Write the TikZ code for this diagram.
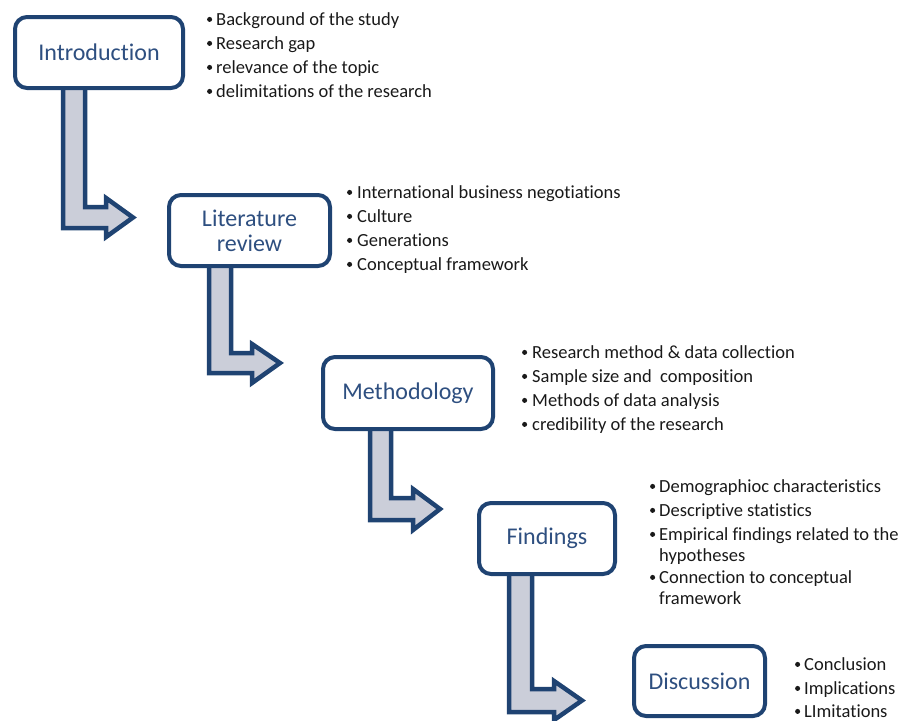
\documentclass[tikz,border=0pt]{standalone}
\usepackage{fontspec}
\setmainfont[Ligatures=NoCommon]{Carlito}
\definecolor{boxblue}{HTML}{1F4372}
\definecolor{boxtext}{HTML}{2E4F80}
\definecolor{arrowfill}{HTML}{CBCED9}
\newcommand\bitem[5]{%
  \node[bulmark] (#1b) at (#2+2.6,#4-5.6) {};
  \node[bultxt] (#1) at (#3,#4) {#5};}
\newcommand\bcont[4]{\node[bultxt] (#1) at (#2,#3) {#4};}
\begin{document}
\begin{tikzpicture}[x=1pt,y=-1pt,
  stagebox/.style={draw=boxblue, line width=4pt, rounded corners=12pt, fill=white,
    inner sep=0pt, text=boxtext, font=\fontsize{24}{26}\selectfont, align=center},
  bentarrow/.style={draw=boxblue, line width=4.5pt, fill=arrowfill, line join=miter},
  bultxt/.style={anchor=base west, inner sep=0pt, font=\fontsize{18.5}{21}\selectfont, text=black!90},
  bulmark/.style={circle, fill=black!90, inner sep=0pt, minimum size=5pt}]
\useasboundingbox (0,0) rectangle (904,720);

% bent arrows (drawn first, boxes cover their tops)
\draw[bentarrow] (63,80) -- (63,228) -- (106,228) -- (106,237) -- (133,217.5) -- (106,198) -- (106,207) -- (85,207) -- (85,80) -- cycle;
\draw[bentarrow] (209,258) -- (209,373) -- (252,373) -- (252,383) -- (280,363) -- (252,344) -- (252,353) -- (231,353) -- (231,258) -- cycle;
\draw[bentarrow] (370,421) -- (370,520) -- (413,520) -- (413,530) -- (440,509) -- (413,489) -- (413,498) -- (391,498) -- (391,421) -- cycle;
\draw[bentarrow] (509,566) -- (509,712) -- (554,712) -- (554,720) -- (582,700.5) -- (554,681) -- (554,689) -- (532,689) -- (532,566) -- cycle;

% stage boxes
\node[stagebox, minimum width=168pt, minimum height=71pt] (intro) at (99,52.5) {Introduction};
\node[stagebox, minimum width=161pt, minimum height=71pt] (lit) at (249.5,230.5) {Literature\\[-1pt]review};
\node[stagebox, minimum width=170pt, minimum height=72pt] (meth) at (408,393) {Methodology};
\node[stagebox, minimum width=136pt, minimum height=71pt] (find) at (547,538.5) {Findings};
\node[stagebox, minimum width=131pt, minimum height=70pt] (disc) at (699.5,681) {Discussion};

% bullet lists
\bitem{i1}{207}{216}{25}{Background of the study}
\bitem{i2}{207}{216}{49}{Research gap}
\bitem{i3}{207}{216}{73}{relevance of the topic}
\bitem{i4}{207}{216}{97}{delimitations of the research}

\bitem{l1}{347}{357}{198}{International business negotiations}
\bitem{l2}{347}{357}{222}{Culture}
\bitem{l3}{347}{357}{246}{Generations}
\bitem{l4}{347}{357}{270}{Conceptual framework}

\bitem{m1}{522}{532}{358}{Research method \& data collection}
\bitem{m2}{522}{532}{382}{Sample size and\ \ composition}
\bitem{m3}{522}{532}{406}{Methods of data analysis}
\bitem{m4}{522}{532}{430}{credibility of the research}

\bitem{f1}{650}{659}{492}{Demographioc characteristics}
\bitem{f2}{650}{659}{516}{Descriptive statistics}
\bitem{f3}{650}{659}{540}{Empirical findings related to the}
\bcont{f3c}{659}{561}{hypotheses}
\bitem{f4}{650}{659}{583}{Connection to conceptual}
\bcont{f4c}{659}{604}{framework}

\bitem{d1}{795}{804}{670}{Conclusion}
\bitem{d2}{795}{804}{694}{Implications}
\bitem{d3}{795}{804}{717}{LImitations}
\end{tikzpicture}
\end{document}
